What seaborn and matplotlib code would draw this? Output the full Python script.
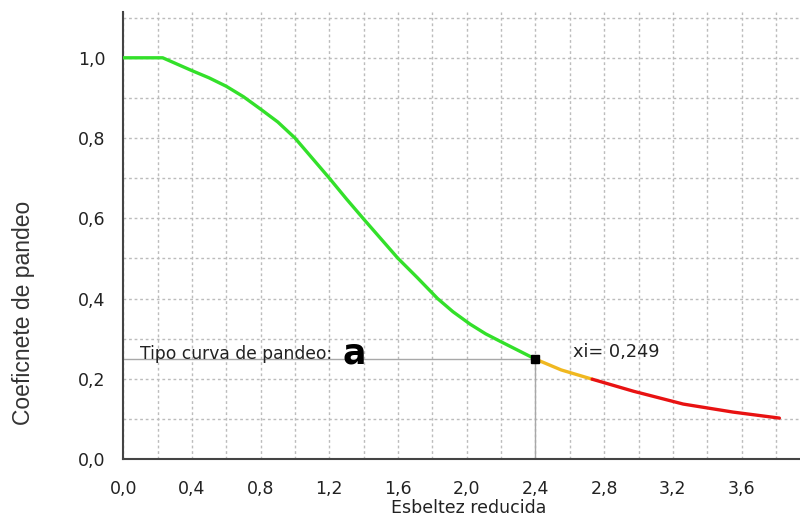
import numpy as np
import pandas as pd
import matplotlib
matplotlib.use("Agg")
import matplotlib.pyplot as plt
from matplotlib.ticker import FuncFormatter, MultipleLocator
import seaborn as sns

# data
green_x = [0.0, 0.23, 0.40, 0.50, 0.60, 0.70, 0.80, 0.90, 1.00, 1.10, 1.20, 1.30, 1.40,
           1.50, 1.60, 1.71, 1.83, 1.92, 2.02, 2.11, 2.21, 2.40]
green_y = [1.0, 1.0, 0.968, 0.950, 0.929, 0.903, 0.872, 0.840, 0.800, 0.750, 0.700, 0.648, 0.598,
           0.549, 0.500, 0.453, 0.400, 0.367, 0.336, 0.312, 0.290, 0.249]
orange_x = [2.40, 2.55, 2.73]
orange_y = [0.249, 0.222, 0.199]
red_x = [2.73, 2.97, 3.26, 3.55, 3.82]
red_y = [0.199, 0.169, 0.137, 0.117, 0.102]
xi_lambda = 2.40
xi_value = 0.249
curve_type = "a"

df = pd.concat([
    pd.DataFrame({"x": green_x, "y": green_y, "seg": "g"}),
    pd.DataFrame({"x": orange_x, "y": orange_y, "seg": "o"}),
    pd.DataFrame({"x": red_x, "y": red_y, "seg": "r"}),
])

sns.set_style("white")
plt.rcParams['font.family'] = ['DejaVu Sans']

fig = plt.figure(figsize=(8, 5.24), dpi=100)
ax = fig.add_axes([0.154, 0.124, 0.846, 0.853])

ax.set_xlim(0, 3.94)
ax.set_ylim(0, 1.114)

ax.xaxis.set_major_locator(MultipleLocator(0.4))
ax.xaxis.set_minor_locator(MultipleLocator(0.2))
ax.yaxis.set_major_locator(MultipleLocator(0.2))
ax.yaxis.set_minor_locator(MultipleLocator(0.1))
ax.grid(True, which="both", linestyle=(0, (2, 2)), color="#bcbcbc", linewidth=1.0)
ax.set_axisbelow(True)

fmt = FuncFormatter(lambda v, p: f"{v:.1f}".replace(".", ","))
ax.xaxis.set_major_formatter(fmt)
ax.yaxis.set_major_formatter(fmt)
ax.tick_params(which="both", length=0, labelsize=12.5, colors="#222222")
ax.tick_params(axis="x", pad=15)
ax.tick_params(axis="y", pad=13)

for s in ["top", "right"]:
    ax.spines[s].set_visible(False)
for s in ["left", "bottom"]:
    ax.spines[s].set_color("#444444")
    ax.spines[s].set_linewidth(1.5)

# crosshair
ax.plot([0, xi_lambda], [xi_value, xi_value], color="#a8a8a8", lw=1.0, zorder=2)
ax.plot([xi_lambda, xi_lambda], [0, xi_value], color="#a8a8a8", lw=1.0, zorder=2)

sns.lineplot(data=df, x="x", y="y", hue="seg", sort=False, estimator=None,
             palette={"g": "#33e02a", "o": "#f0b820", "r": "#e81212"},
             linewidth=2.4, legend=False, ax=ax, zorder=3)

ax.plot([xi_lambda], [xi_value], marker="s", color="black", markersize=6, zorder=4)

ax.text(0.10, 0.262, "Tipo curva de pandeo:", fontsize=12.3, color="#222222",
        va="center", ha="left")
ax.text(1.275, 0.262, curve_type, fontsize=25, fontweight="bold", color="black",
        va="center", ha="left")
ax.text(2.62, 0.266, "xi= " + f"{xi_value:.3f}".replace(".", ","), fontsize=12.8,
        color="#222222", va="center", ha="left")

ax.set_xlabel("")
ax.set_ylabel("")
fig.text(0.586, 0.031, "Esbeltez reducida", fontsize=12.5, color="#222222", ha="center", va="center")
fig.text(0.03, 0.403, "Coeficnete de pandeo", fontsize=16.5, color="#333333", ha="center", va="center",
         rotation=90, family=["Liberation Sans", "DejaVu Sans"])

fig.savefig("out.png", dpi=100)
